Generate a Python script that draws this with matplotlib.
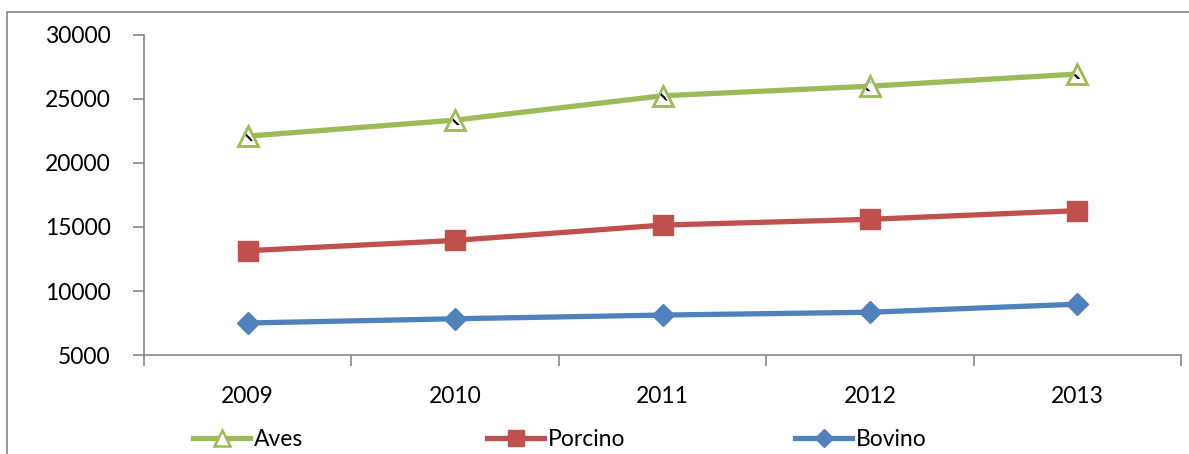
import matplotlib.pyplot as plt
from matplotlib.patches import Rectangle
from matplotlib.lines import Line2D

# Datos
years = ["2009", "2010", "2011", "2012", "2013"]
aves = [22100, 23350, 25250, 26000, 26950]
porcino = [13150, 13950, 15150, 15600, 16280]
bovino = [7500, 7830, 8120, 8340, 8970]
series_names = ["Aves", "Porcino", "Bovino"]

plt.rcParams["font.family"] = ["Lato", "DejaVu Sans"]
plt.rcParams["hatch.linewidth"] = 1.5

fig = plt.figure(figsize=(11.89, 4.54), dpi=100)
ax = fig.add_axes([144 / 1189, 1 - 355 / 454, (1181 - 144) / 1189, 320 / 454])

# marco exterior del gráfico
fig.patches.append(Rectangle((7 / 1189, -0.1), 1.2, 1 - 12 / 454 + 0.1,
                             transform=fig.transFigure, fill=False,
                             edgecolor="#868686", linewidth=1.2))

x = list(range(len(years)))
ax.plot(x, aves, color="#9BBB59", lw=3.8, marker="^", ms=15,
        mfc="white", mec="#9BBB59", mew=2, zorder=3)
# relleno punteado de los triángulos
ax.scatter(x, aves, s=50, marker="^", facecolor="none", edgecolor="black",
           linewidth=0, hatch="\\\\\\", zorder=4)
ax.plot(x, porcino, color="#C0504D", lw=3.8, marker="s", ms=14,
        mfc="#C0504D", mec="#C0504D", zorder=3)
ax.plot(x, bovino, color="#4F81BD", lw=3.8, marker="D", ms=11,
        mfc="#4F81BD", mec="#4F81BD", zorder=3)

ax.set_xlim(-0.5, len(years) - 0.5)
ax.set_ylim(5000, 30000)
ax.set_yticks(range(5000, 30001, 5000))
ax.set_xticks(x)
ax.set_xticklabels(years)
ax.set_xticks([i - 0.5 for i in range(len(years) + 1)], minor=True)

for s in ["top", "right"]:
    ax.spines[s].set_visible(False)
for s in ["left", "bottom"]:
    ax.spines[s].set_color("#868686")
    ax.spines[s].set_linewidth(1.2)

ax.tick_params(axis="x", which="major", length=0, pad=22, labelsize=16.5)
ax.tick_params(axis="x", which="minor", length=8, width=1.2, color="#868686")
ax.tick_params(axis="y", length=8, width=1.2, color="#868686", pad=16, labelsize=16.5)

handles = [
    Line2D([], [], color="#9BBB59", lw=3.8, marker="^", ms=11, mfc="white", mec="#9BBB59", mew=1.8),
    Line2D([], [], color="#C0504D", lw=3.8, marker="s", ms=12, mfc="#C0504D", mec="#C0504D"),
    Line2D([], [], color="#4F81BD", lw=3.8, marker="D", ms=9, mfc="#4F81BD", mec="#4F81BD"),
]
# una leyenda por serie, repartidas como en el original
legend_x = [193, 487, 795]
for h, name, lx in zip(handles, series_names, legend_x):
    leg = fig.legend([h], [name], loc="center left",
                     bbox_to_anchor=(lx / 1189, 1 - 440 / 454), frameon=False,
                     fontsize=16.5, handlelength=2.5, handletextpad=0.15,
                     borderaxespad=0, borderpad=0)

fig.savefig("out.png", dpi=100)
